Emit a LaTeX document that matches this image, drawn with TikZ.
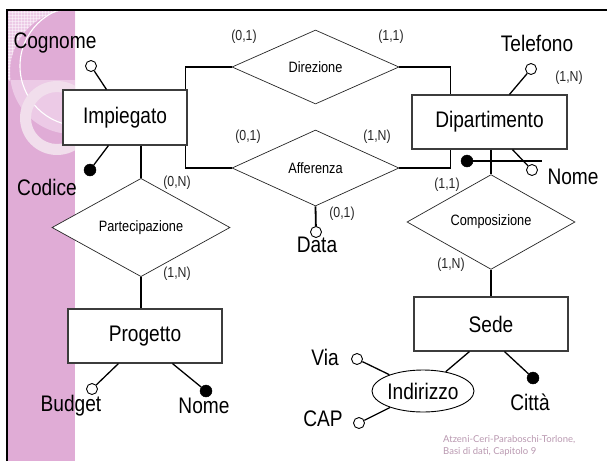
\documentclass[tikz,border=0pt]{standalone}
\usepackage{fontspec}
\setmainfont[FakeStretch=0.85]{Liberation Sans}
\newfontfamily\footfont{Lato}
\usetikzlibrary{shapes.geometric,calc}

\definecolor{stripe}{RGB}{224,172,214}
\definecolor{stripelight}{RGB}{236,202,230}
\definecolor{ringcol}{RGB}{241,222,236}
\definecolor{boxline}{RGB}{60,60,60}
\definecolor{footcol}{RGB}{185,152,176}

\tikzset{
  entity/.style={draw=boxline, line width=1.1pt, fill=white, inner sep=0pt,
    font=\fontsize{22.5}{26}\selectfont},
  relation/.style={draw=black!85, line width=0.7pt, fill=white, shape=diamond,
    inner sep=0pt, font=\fontsize{15}{17}\selectfont},
  link/.style={line width=1.8pt, black},
  attr/.style={draw=black, line width=0.9pt, fill=white, circle, inner sep=0pt,
    minimum size=11pt},
  keyattr/.style={draw=black, fill=black, circle, inner sep=0pt, minimum size=12pt},
  lbl/.style={font=\fontsize{22.5}{26}\selectfont, inner sep=0pt},
  card/.style={font=\fontsize{14.5}{16}\selectfont, inner sep=0pt, text=black!85},
}

\begin{document}
\begin{tikzpicture}[x=1pt, y=-1pt]
\useasboundingbox (0,0) rectangle (607,461);

% decorative side stripe
\fill[stripe] (8,10) rectangle (75,461);
\begin{scope}
  \clip (8,10) rectangle (75,461);
  \fill[stripelight, even odd rule] (8,10) rectangle (75,80) (72,72) circle[radius=62];
  \begin{scope}[even odd rule]
    \clip (8,10) rectangle (75,80);
    \clip (0,0) rectangle (80,90) (72,72) circle[radius=62];
    \foreach \k in {0,3,...,80} {
      \draw[white, opacity=0.45, line width=0.5pt] (\k,0) -- (\k,90);
      \draw[white, opacity=0.45, line width=0.5pt] (0,\k) -- (80,\k);
    }
  \end{scope}
  \draw[white, line width=1.1pt] (80,66) circle[radius=60];
  \fill[ringcol, even odd rule] (57,118) circle[radius=37] (57,118) circle[radius=26];
\end{scope}

% frame
\draw[line width=2pt] (7,461) -- (7,9.5) -- (607,9.5);

% entities
\node[entity, minimum width=124pt, minimum height=55pt] (imp) at (125,117.5) {Impiegato};
\node[entity, minimum width=155pt, minimum height=54pt] (dip) at (489.5,122) {Dipartimento};
\node[entity, minimum width=154pt, minimum height=54pt] (prog) at (145,336) {Progetto};
\node[entity, minimum width=154pt, minimum height=54pt] (sede) at (491,324) {Sede};

% relationships
\node[relation, minimum width=167pt, minimum height=74pt] (dir) at (315.5,67) {Direzione};
\node[relation, minimum width=167pt, minimum height=76pt] (aff) at (315.5,168) {Afferenza};
\node[relation, minimum width=178pt, minimum height=81pt] (part) at (141,227.5) {Partecipazione};
\node[relation, minimum width=168pt, minimum height=76pt] (comp) at (491,222) {Composizione};

% relationship links
\draw[link] (dir.west) -| ([xshift=-2pt]imp.north east);
\draw[link] (dir.east) -| ([xshift=39pt]dip.north west);
\draw[link] (aff.west) -| ([xshift=-2pt]imp.south east);
\draw[link] (aff.east) -| ([xshift=39pt]dip.south west);
\draw[link] (part.north |- imp.south) -- (part.north);
\draw[link] (part.south) -- (part.south |- prog.north);
\draw[link] (comp.north |- dip.south) -- (comp.north);
\draw[link, line width=1.3pt] (comp.south) -- (comp.south |- sede.north);

% attributes of Impiegato
\node[attr] (cog) at (91,66) {};
\node[keyattr] (cod) at (90,170) {};
\draw[link, line width=1.3pt] (cog) -- ([xshift=44pt]imp.north west);
\draw[link, line width=1.3pt] (cod) -- ([xshift=46pt]imp.south west);
\node[lbl] (cogl) at (55,43) {Cognome};
\node[lbl] (codl) at (47,187) {Codice};

% attributes of Dipartimento
\node[attr] (tel) at (531,69) {};
\node[attr] (nomd) at (532,170) {};
\draw[link, line width=1.3pt] (tel) -- ([xshift=98pt]dip.north west);
\draw[link, line width=1.3pt] (nomd) -- ([xshift=101pt]dip.south west);
\node[lbl] (tell) at (537,43) {Telefono};
\node[lbl] (nomdl) at (573,177) {Nome};
\node[card] (telc) at (569,78) {(1,N)};
% external identifier
\coordinate (idend) at (542,161);
\node[keyattr] (idk) at (467,161) {};
\draw[link, line width=2pt] (idk.center) -- (idend);

% attribute of Afferenza
\node[attr] (data) at (316,232) {};
\draw[link] (aff.south) -- (data);
\node[lbl] (datal) at (317,245) {Data};
\node[card] (datac) at (342,214) {(0,1)};

% attributes of Progetto
\node[attr] (bud) at (92,389) {};
\node[keyattr] (nomp) at (206,391) {};
\draw[link, line width=1.3pt] (bud) -- ([xshift=51pt]prog.south west);
\draw[link, line width=1.3pt] (nomp) -- ([xshift=105pt]prog.south west);
\node[lbl] (budl) at (71,406) {Budget};
\node[lbl] (nompl) at (204,406) {Nome};

% attributes of Sede
\node[draw=black, line width=0.9pt, fill=white, ellipse, inner sep=0pt,
  minimum width=102pt, minimum height=42pt, font=\fontsize{22.5}{26}\selectfont]
  (ind) at (423,391) {Indirizzo};
\node[keyattr] (cit) at (533,378) {};
\draw[link, line width=1.3pt] ([xshift=56pt]sede.south west) -- (ind);
\draw[link, line width=1.3pt] (cit) -- ([xshift=91pt]sede.south west);
\node[lbl] (citl) at (530,402) {Città};
\node[attr] (via) at (357,359) {};
\node[attr] (cap) at (359,423) {};
\draw[link, line width=1.3pt] (via) -- (ind);
\draw[link, line width=1.3pt] (cap) -- (ind);
\node[lbl] (vial) at (325,357) {Via};
\node[lbl] (capl) at (323,419) {CAP};

% cardinalities
\node[card] (c1) at (244,37) {(0,1)};
\node[card] (c2) at (391,37) {(1,1)};
\node[card] (c3) at (248,137) {(0,1)};
\node[card] (c4) at (377,137) {(1,N)};
\node[card] (c5) at (177,183) {(0,N)};
\node[card] (c6) at (177,274) {(1,N)};
\node[card] (c7) at (447,185) {(1,1)};
\node[card] (c8) at (451,265) {(1,N)};

% credits
\node[font=\footfont\fontsize{9.5}{12.5}\selectfont, text=footcol, align=left,
  anchor=north west, inner sep=0pt] (credit) at (443,435)
  {Atzeni-Ceri-Paraboschi-Torlone,\\Basi di dati, Capitolo 9};
\end{tikzpicture}
\end{document}
